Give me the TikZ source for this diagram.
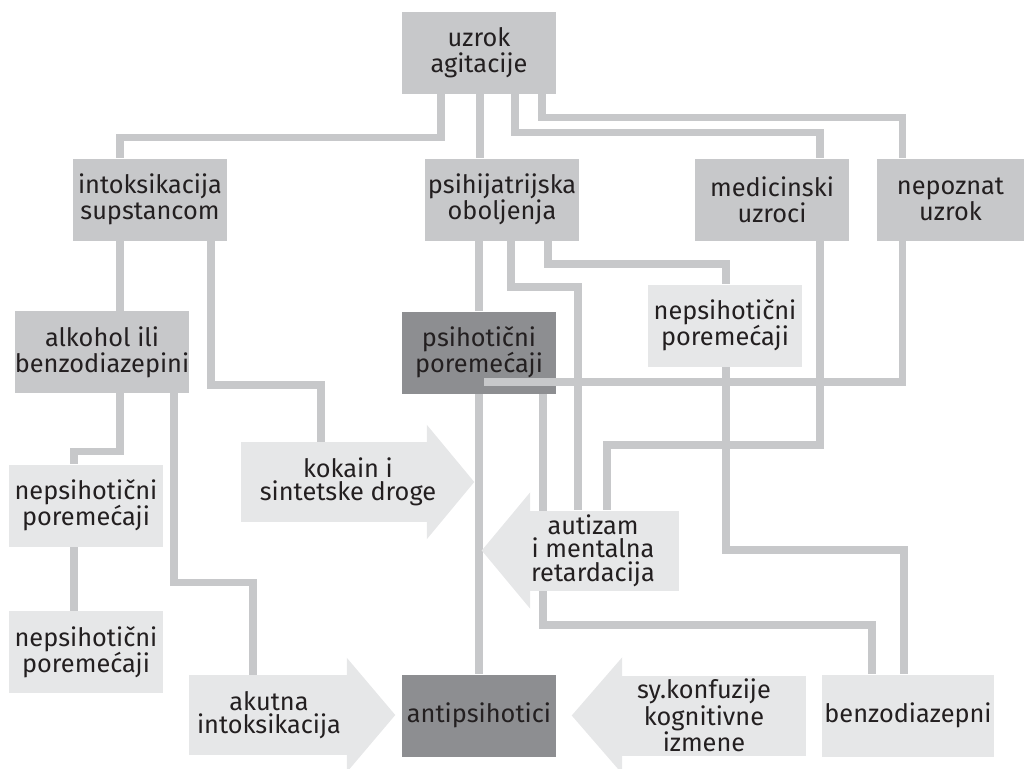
\documentclass[tikz,border=0pt]{standalone}
\usepackage{fontspec}
\setmainfont{Fira Sans}
\usetikzlibrary{calc}
\definecolor{midg}{HTML}{C7C8CA}
\definecolor{darkg}{HTML}{8D8E91}
\definecolor{lightg}{HTML}{E6E7E8}
\definecolor{linec}{HTML}{C7C8CA}
\definecolor{txtc}{HTML}{231F20}
\pgfdeclarelayer{background}
\pgfsetlayers{background,main}
\begin{document}
\begin{tikzpicture}[x=0.75pt,y=-0.75pt,
  box/.style={inner sep=0pt, align=center, text=txtc, font=\fontsize{19}{19.5}\selectfont, minimum width=115.5pt, minimum height=61.5pt},
  mid/.style={box, fill=midg},
  dark/.style={box, fill=darkg},
  light/.style={box, fill=lightg},
  shaft/.style={fill=lightg, inner sep=0pt, minimum height=60pt},
  head/.style={fill=lightg},
  lbl/.style={inner sep=0pt, align=center, text=txtc, font=\fontsize{19}{17.6}\selectfont},
  conn/.style={draw=linec, line width=5.6pt, line join=miter}
]
\useasboundingbox (0,0) rectangle (1024,768);

% boxes
\node[mid] (A) at (479,53) {uzrok\\agitacije};
\node[mid] (B) at (150,199.5) {intoksikacija\\supstancom};
\node[mid] (C) at (502,199.5) {psihijatrijska\\oboljenja};
\node[mid] (D) at (772,199.5) {medicinski\\uzroci};
\node[mid, minimum width=110.25pt] (E) at (950.5,199.5) {nepoznat\\uzrok};
\node[mid, minimum width=130.5pt] (F) at (102,352) {alkohol ili\\benzodiazepini};
\node[dark] (G) at (479,352.5) {psihotični\\poremećaji};
\node[light] (H) at (725,325.5) {nepsihotični\\poremećaji};
\node[light] (I) at (86,505.5) {nepsihotični\\poremećaji};
\node[light] (J) at (86,652) {nepsihotični\\poremećaji};
\node[dark] (P) at (479,715.5) {antipsihotici};
\node[light, minimum width=129pt] (Q) at (908,715.5) {benzodiazepni};

% arrow shafts
\node[shaft, minimum width=139.5pt] (K) at (334,482) {};
\node[shaft, minimum width=111.75pt] (L) at (604.5,550.5) {};
\node[shaft, minimum width=118.5pt] (M) at (268,715) {};
\node[shaft, minimum width=138pt] (N) at (714,715.5) {};

% arrow heads
\fill[head] ($(K.north east)+(-0.5,-17)$) -- ($(K.east)+(47,0)$) -- ($(K.south east)+(-0.5,17)$) -- cycle;
\fill[head] ($(L.north west)+(0.5,-18)$) -- ($(L.west)+(-48,0)$) -- ($(L.south west)+(0.5,18)$) -- cycle;
\fill[head] ($(M.north east)+(-0.5,-17)$) -- ($(M.east)+(48,0)$) -- ($(M.south east)+(-0.5,17)$) -- cycle;
\fill[head] ($(N.north west)+(0.5,-18)$) -- ($(N.west)+(-50,0)$) -- ($(N.south west)+(0.5,18)$) -- cycle;

% arrow labels
\node[lbl] (Kt) at (348,482) {kokain i\\sintetske droge};
\node[lbl] (Lt) at (593,550.5) {autizam\\i mentalna\\retardacija};
\node[lbl] (Mt) at (269,715) {akutna\\intoksikacija};
\node[lbl] (Nt) at (704,715.5) {sy.konfuzije\\kognitivne\\izmene};

% connectors (behind boxes)
\begin{pgfonlayer}{background}
\draw[conn] ($(A.south)+(-38,0)$) -- ++(0,43) -| ($(B.north)+(-30,0)$);
\draw[conn] ($(A.south)+(1,0)$) -- ($(C.north)+(-22,0)$);
\draw[conn] ($(A.south)+(36,0)$) -- ++(0,38) -| ($(D.north)+(48,0)$);
\draw[conn] ($(A.south)+(63,0)$) -- ++(0,23) -| ($(E.north)+(-48,0)$);
\draw[conn] ($(B.south)+(-30,0)$) -- ($(F.north)+(18,0)$);
\draw[conn] ($(B.south)+(61,0)$) -- ++(0,144) -| ($(K.north)+(-13,0)$);
\draw[conn] ($(F.south)+(18,0)$) -- ++(0,58) -| ($(I.north)+(-12,0)$);
\draw[conn] ($(I.south)+(-12,0)$) -- ($(J.north)+(-12,0)$);
\draw[conn] ($(F.south)+(72,0)$) -- ++(0,189) -| ($(M.north)+(-15,0)$);
\draw[conn] ($(C.south)+(-23,0)$) -- (G.north);
\draw[conn] (G.south) -- (P.north);
\draw[conn] ($(C.south)+(9,0)$) -- ++(0,46) -| ($(L.north)+(-26.5,0)$);
\draw[conn] ($(C.south)+(46,0)$) -- ++(0,23) -| ($(H.north)+(1,0)$);
\draw[conn] ($(D.south)+(48,0)$) -- ++(0,204) -| ($(L.north)+(2.5,0)$);
\draw[conn] ($(H.south)+(1,0)$) -- ++(0,183) -| ($(Q.north)+(-4,0)$);
\draw[conn] ($(G.south)+(64,0)$) -- ++(0,231) -| ($(Q.north)+(-36,0)$);
\end{pgfonlayer}

% connector drawn over the dark box
\draw[conn] ($(E.south)+(-48,0)$) |- ($(G.south east)+(-72,-12)$);
\end{tikzpicture}
\end{document}
